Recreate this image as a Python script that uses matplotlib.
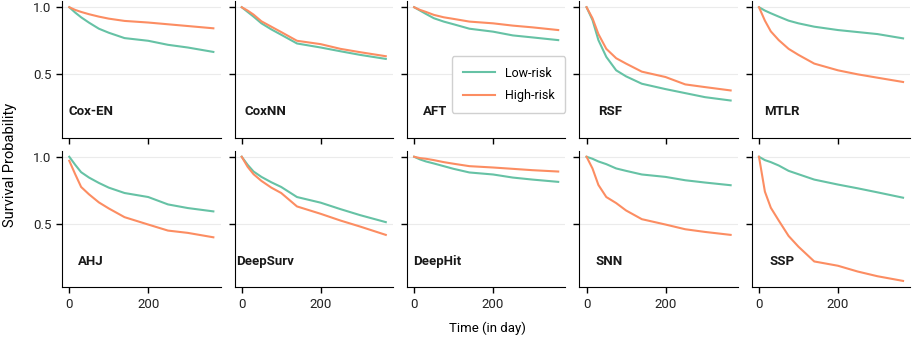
import matplotlib
matplotlib.use("Agg")
import matplotlib.pyplot as plt

plt.rcParams['font.family'] = ['Roboto', 'DejaVu Sans']
plt.rcParams['font.size'] = 9

days = [0, 15, 30, 50, 75, 100, 140, 200, 250, 300, 365]

models = ["Cox-EN", "CoxNN", "AFT", "RSF", "MTLR",
          "AHJ", "DeepSurv", "DeepHit", "SNN", "SSP"]

low_risk = {
    "Cox-EN":   [1.0, 0.96, 0.925, 0.885, 0.84, 0.81, 0.77, 0.75, 0.72, 0.70, 0.667],
    "CoxNN":    [1.0, 0.965, 0.93, 0.88, 0.835, 0.795, 0.73, 0.70, 0.672, 0.645, 0.615],
    "AFT":      [1.0, 0.975, 0.95, 0.918, 0.893, 0.873, 0.84, 0.818, 0.79, 0.775, 0.755],
    "RSF":      [1.0, 0.905, 0.755, 0.63, 0.53, 0.485, 0.43, 0.39, 0.36, 0.33, 0.305],
    "MTLR":     [1.0, 0.975, 0.955, 0.93, 0.90, 0.88, 0.855, 0.83, 0.815, 0.80, 0.768],
    "AHJ":      [1.0, 0.94, 0.885, 0.845, 0.805, 0.77, 0.73, 0.70, 0.645, 0.618, 0.593],
    "DeepSurv": [1.0, 0.94, 0.89, 0.85, 0.81, 0.775, 0.70, 0.658, 0.61, 0.565, 0.513],
    "DeepHit":  [1.0, 0.98, 0.965, 0.95, 0.93, 0.91, 0.883, 0.868, 0.845, 0.83, 0.813],
    "SNN":      [1.0, 0.985, 0.965, 0.945, 0.913, 0.895, 0.868, 0.85, 0.825, 0.808, 0.788],
    "SSP":      [1.0, 0.975, 0.96, 0.935, 0.895, 0.87, 0.83, 0.793, 0.765, 0.735, 0.695],
}

high_risk = {
    "Cox-EN":   [1.0, 0.98, 0.965, 0.948, 0.93, 0.915, 0.898, 0.886, 0.873, 0.86, 0.843],
    "CoxNN":    [1.0, 0.975, 0.945, 0.895, 0.855, 0.815, 0.75, 0.725, 0.69, 0.665, 0.635],
    "AFT":      [1.0, 0.98, 0.965, 0.943, 0.925, 0.913, 0.893, 0.88, 0.863, 0.85, 0.83],
    "RSF":      [1.0, 0.918, 0.80, 0.69, 0.62, 0.58, 0.52, 0.48, 0.425, 0.405, 0.38],
    "MTLR":     [1.0, 0.90, 0.82, 0.755, 0.69, 0.645, 0.58, 0.53, 0.50, 0.475, 0.443],
    "AHJ":      [0.97, 0.87, 0.775, 0.72, 0.66, 0.615, 0.55, 0.495, 0.45, 0.433, 0.40],
    "DeepSurv": [1.0, 0.925, 0.87, 0.82, 0.77, 0.73, 0.63, 0.575, 0.525, 0.48, 0.418],
    "DeepHit":  [1.0, 0.99, 0.985, 0.975, 0.96, 0.948, 0.93, 0.92, 0.91, 0.90, 0.89],
    "SNN":      [1.0, 0.913, 0.79, 0.70, 0.655, 0.60, 0.535, 0.495, 0.46, 0.44, 0.418],
    "SSP":      [1.0, 0.74, 0.62, 0.525, 0.41, 0.33, 0.22, 0.188, 0.145, 0.11, 0.075],
}

# label x position (axes fraction) for each panel title
label_x = [0.04, 0.06, 0.10, 0.12, 0.08, 0.10, 0.01, 0.04, 0.10, 0.11]

green = "#66c2a5"
orange = "#fc8d62"

fig, axes = plt.subplots(2, 5, figsize=(9.13, 3.41), dpi=100, sharex=True, sharey=True)
fig.subplots_adjust(left=0.068, right=0.997, top=0.997, bottom=0.158,
                    wspace=0.088, hspace=0.095)

for i, (ax, name) in enumerate(zip(axes.flat, models)):
    ax.plot(days, low_risk[name], color=green, lw=1.5, label="Low-risk")
    ax.plot(days, high_risk[name], color=orange, lw=1.5, label="High-risk")
    ax.text(label_x[i], 0.19, name, transform=ax.transAxes, fontweight="bold",
            va="center", ha="left", fontsize=9.5, color="#1a1a1a")
    ax.set_yticks([0.5, 1.0])
    ax.set_xticks([0, 200])
    ax.grid(axis="y", color="#ebebeb", lw=0.8)
    ax.set_axisbelow(True)
    for s in ["top", "right"]:
        ax.spines[s].set_visible(False)
    ax.tick_params(direction="out", length=4, width=1, colors="black", labelsize=9.5)
    ax.tick_params(axis="both", labelcolor="#222222")

axes[0, 2].legend(loc="upper right", bbox_to_anchor=(1.0, 0.597), borderaxespad=0,
                  fontsize=9, handlelength=2.6, frameon=True, edgecolor="#d0d0d0",
                  framealpha=1.0, borderpad=0.85, labelspacing=0.75)

fig.text(0.011, 0.516, "Survival Probability", rotation=90, va="center", ha="center",
         fontsize=10.5)
fig.text(0.534, 0.038, "Time (in day)", ha="center", va="center", fontsize=9.5)

fig.savefig("out.png", dpi=100)
